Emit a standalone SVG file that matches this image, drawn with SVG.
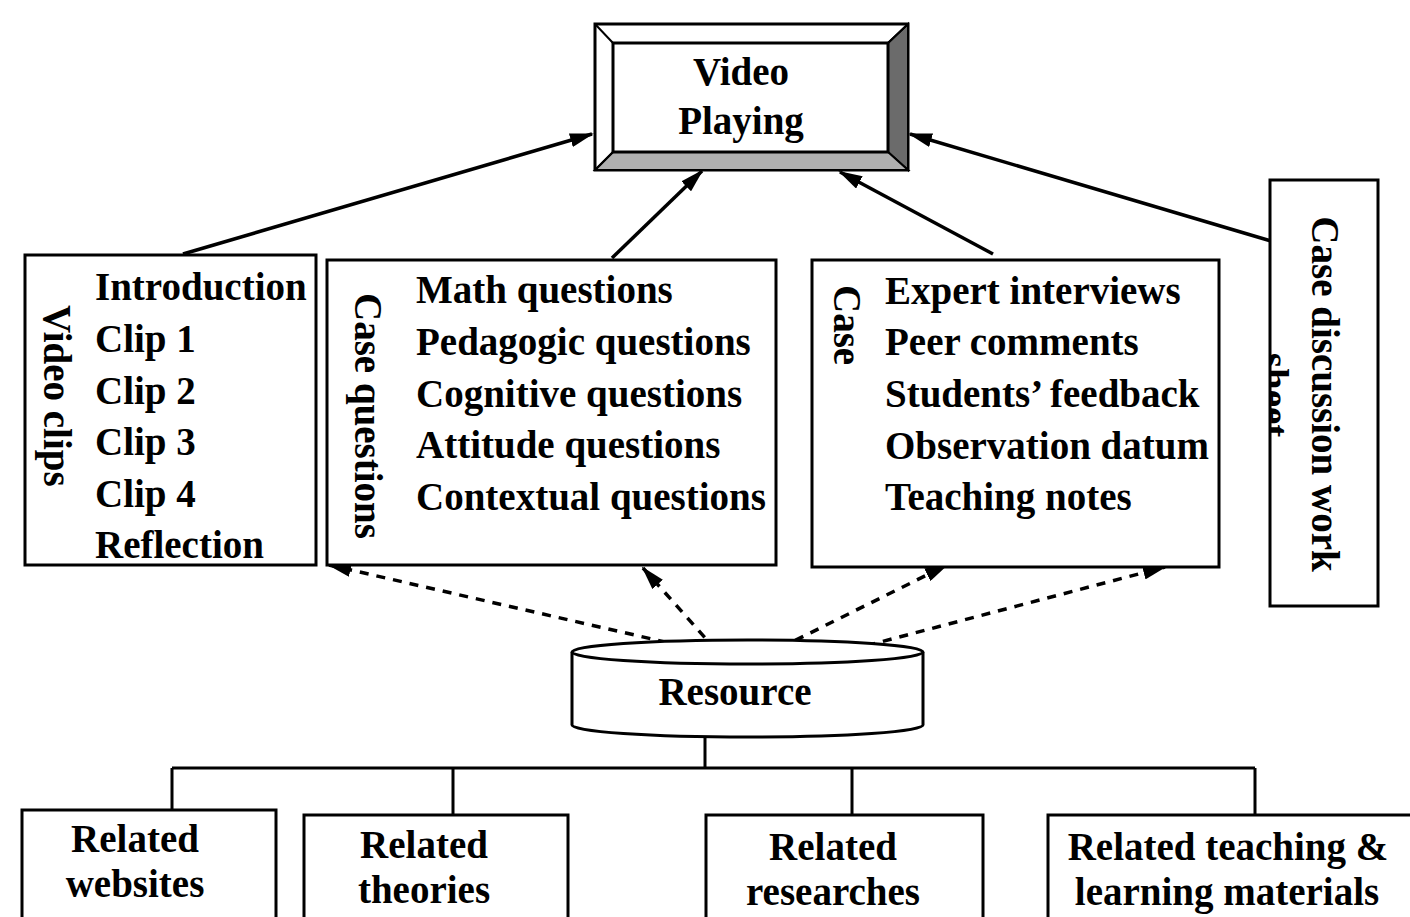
<svg xmlns="http://www.w3.org/2000/svg" width="1410" height="917" viewBox="0 0 1410 917">
<style>
.t{font-family:"Liberation Serif","Times New Roman",serif;font-weight:bold;font-size:39px;fill:#000}
.box{fill:#fff;stroke:#000;stroke-width:3}
.ln{fill:none;stroke:#000;stroke-width:3.5}
.dl{fill:none;stroke:#000;stroke-width:3.5;stroke-dasharray:9 8}
.tree{fill:none;stroke:#000;stroke-width:3}
</style>
<defs>
<marker id="ah" markerUnits="userSpaceOnUse" markerWidth="24" markerHeight="14" refX="22" refY="7" orient="auto">
<path d="M0,0 L24,7 L0,14 z" fill="#000"/>
</marker>
<clipPath id="cs"><rect x="1271" y="181" width="106" height="424"/></clipPath>
</defs>
<rect width="1410" height="917" fill="#fff"/>

<g id="connectors">
<line class="ln" x1="183" y1="254" x2="592" y2="134" marker-end="url(#ah)"/>
<line class="ln" x1="612" y1="258" x2="702" y2="171" marker-end="url(#ah)"/>
<line class="ln" x1="993" y1="254" x2="840" y2="172" marker-end="url(#ah)"/>
<line class="ln" x1="1271" y1="241" x2="910" y2="134" marker-end="url(#ah)"/>
<line class="dl" x1="700" y1="650" x2="329" y2="565" marker-end="url(#ah)"/>
<line class="dl" x1="716" y1="650" x2="643" y2="568" marker-end="url(#ah)"/>
<line class="dl" x1="780" y1="648" x2="947" y2="565" marker-end="url(#ah)"/>
<line class="dl" x1="850" y1="650" x2="1165" y2="567" marker-end="url(#ah)"/>
<path class="tree" d="M705,737 V768 M172,768 H1255 M172,768 V810 M453,768 V815 M852,768 V815 M1255,768 V815"/>
</g>

<g id="video-playing">
<rect x="595" y="24" width="313" height="146" fill="#fff" stroke="#000" stroke-width="3"/>
<path d="M888,43 L908,24 L908,170 L888,152 z" fill="#6b6b6b" stroke="#000" stroke-width="2"/>
<path d="M613,152 L888,152 L908,170 L595,170 z" fill="#b0b0b0" stroke="#000" stroke-width="2"/>
<path d="M595,24 L613,43 M908,24 L888,43 M595,170 L613,152" stroke="#000" stroke-width="2"/>
<rect x="613" y="43" width="275" height="109" fill="#fff" stroke="#000" stroke-width="3"/>
<text class="t" x="741" y="85" text-anchor="middle">Video</text>
<text class="t" x="741" y="134" text-anchor="middle">Playing</text>
</g>

<g id="video-clips">
<rect class="box" x="25" y="255" width="291" height="310"/>
<text class="t" transform="translate(44,305) rotate(90)">Video clips</text>
<text class="t" x="95" y="300">Introduction</text>
<text class="t" x="95" y="352">Clip 1</text>
<text class="t" x="95" y="404">Clip 2</text>
<text class="t" x="95" y="455">Clip 3</text>
<text class="t" x="95" y="507">Clip 4</text>
<text class="t" x="95" y="558">Reflection</text>
</g>

<g id="case-questions">
<rect class="box" x="327" y="260" width="449" height="305"/>
<text class="t" transform="translate(355,293) rotate(90)">Case questions</text>
<text class="t" x="416" y="303">Math questions</text>
<text class="t" x="416" y="355">Pedagogic questions</text>
<text class="t" x="416" y="407">Cognitive questions</text>
<text class="t" x="416" y="458">Attitude questions</text>
<text class="t" x="416" y="510">Contextual questions</text>
</g>

<g id="case">
<rect class="box" x="812" y="260" width="407" height="307"/>
<text class="t" transform="translate(834,285) rotate(90)">Case</text>
<text class="t" x="885" y="304">Expert interviews</text>
<text class="t" x="885" y="355">Peer comments</text>
<text class="t" x="885" y="407">Students’ feedback</text>
<text class="t" x="885" y="459">Observation datum</text>
<text class="t" x="885" y="510">Teaching notes</text>
</g>

<g id="case-discussion-sheet">
<rect class="box" x="1270" y="180" width="108" height="426"/>
<g clip-path="url(#cs)">
<text class="t" text-anchor="middle" transform="translate(1312,394) rotate(90)">Case discussion work</text>
<text class="t" text-anchor="middle" transform="translate(1261,395) rotate(90)">sheet</text>
</g>
</g>

<g id="resource">
<path d="M572,652 V725 A175.5,12 0 0 0 923,725 V652" fill="#fff" stroke="#000" stroke-width="3"/>
<ellipse cx="747.5" cy="652" rx="175.5" ry="12" fill="#fff" stroke="#000" stroke-width="3"/>
<text class="t" x="735" y="705" text-anchor="middle">Resource</text>
</g>

<g id="related-websites">
<rect class="box" x="22" y="810" width="254" height="120"/>
<text class="t" x="135" y="852" text-anchor="middle">Related</text>
<text class="t" x="135" y="897" text-anchor="middle">websites</text>
</g>

<g id="related-theories">
<rect class="box" x="304" y="815" width="264" height="115"/>
<text class="t" x="424" y="858" text-anchor="middle">Related</text>
<text class="t" x="424" y="903" text-anchor="middle">theories</text>
</g>

<g id="related-researches">
<rect class="box" x="706" y="815" width="277" height="115"/>
<text class="t" x="833" y="860" text-anchor="middle">Related</text>
<text class="t" x="833" y="905" text-anchor="middle">researches</text>
</g>

<g id="related-materials">
<rect class="box" x="1048" y="815" width="380" height="115"/>
<text class="t" x="1228" y="860" text-anchor="middle">Related teaching &amp;</text>
<text class="t" x="1227" y="905" text-anchor="middle">learning materials</text>
</g>
</svg>
